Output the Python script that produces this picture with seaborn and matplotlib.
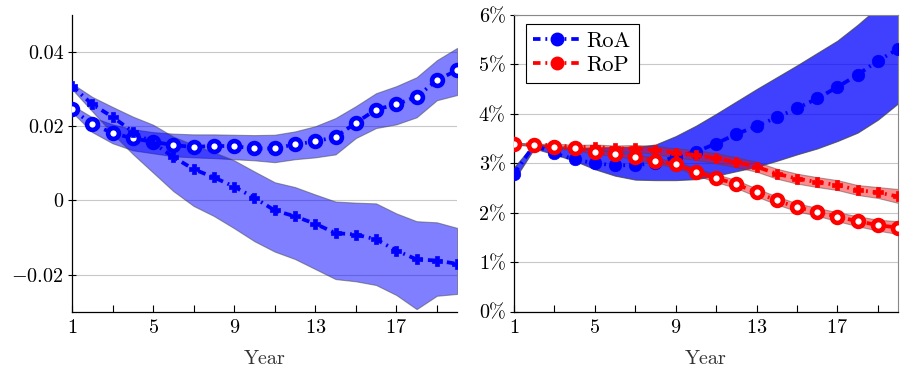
import pandas as pd
import seaborn as sns
import matplotlib.pyplot as plt
from matplotlib.lines import Line2D

years = list(range(1, 21))

# left panel (levels)
left_ring = [0.0246, 0.0205, 0.0182, 0.0167, 0.0158, 0.0149, 0.0144, 0.0147, 0.0146, 0.0140,
             0.0140, 0.0151, 0.0159, 0.0171, 0.0209, 0.0245, 0.0259, 0.0279, 0.0324, 0.0351]
left_ring_hi = [0.0257, 0.0224, 0.0205, 0.0192, 0.0184, 0.0180, 0.0178, 0.0178, 0.0177, 0.0176,
                0.0177, 0.0186, 0.0200, 0.0222, 0.0254, 0.0289, 0.0308, 0.0332, 0.0378, 0.0411]
left_ring_lo = [0.0238, 0.0184, 0.0154, 0.0135, 0.0127, 0.0119, 0.0116, 0.0114, 0.0111, 0.0108,
                0.0103, 0.0111, 0.0116, 0.0124, 0.0168, 0.0195, 0.0205, 0.0224, 0.0270, 0.0284]
left_plus = [0.0308, 0.0259, 0.0225, 0.0185, 0.0155, 0.0117, 0.0084, 0.0062, 0.0037, 0.0007,
             -0.0027, -0.0043, -0.0063, -0.0088, -0.0092, -0.0105, -0.0135, -0.0159, -0.0162, -0.0171]
left_plus_hi = [0.0315, 0.0279, 0.0252, 0.0226, 0.0204, 0.0172, 0.0150, 0.0130, 0.0108, 0.0078,
                0.0049, 0.0036, 0.0016, -0.0003, -0.0006, -0.0008, -0.0035, -0.0056, -0.0059, -0.0074]
left_plus_lo = [0.0300, 0.0240, 0.0180, 0.0125, 0.0075, 0.0025, -0.0015, -0.0042, -0.0075, -0.0110,
                -0.0138, -0.0158, -0.0185, -0.0212, -0.0218, -0.0228, -0.0255, -0.0293, -0.0257, -0.0252]

# right panel (percent)
roa = [2.79, 3.37, 3.20, 3.08, 3.00, 2.96, 2.96, 3.01, 3.13, 3.23,
       3.40, 3.59, 3.75, 3.93, 4.11, 4.31, 4.54, 4.79, 5.07, 5.31]
roa_hi = [2.92, 3.40, 3.33, 3.31, 3.32, 3.33, 3.33, 3.38, 3.55, 3.76,
          4.00, 4.25, 4.50, 4.74, 4.98, 5.23, 5.48, 5.80, 6.15, 6.45]
roa_lo = [2.66, 3.30, 3.18, 3.05, 2.88, 2.75, 2.67, 2.66, 2.66, 2.68,
          2.75, 2.84, 2.93, 3.05, 3.18, 3.30, 3.45, 3.62, 3.88, 4.21]
rop_ring = [3.40, 3.37, 3.33, 3.30, 3.23, 3.19, 3.13, 3.05, 2.98, 2.83,
            2.70, 2.58, 2.41, 2.25, 2.11, 2.02, 1.92, 1.83, 1.75, 1.70]
rop_ring_hi = [3.42, 3.39, 3.36, 3.33, 3.27, 3.23, 3.18, 3.11, 3.04, 2.90,
               2.78, 2.66, 2.49, 2.33, 2.19, 2.10, 2.01, 1.93, 1.86, 1.83]
rop_ring_lo = [3.38, 3.35, 3.30, 3.27, 3.19, 3.15, 3.08, 2.99, 2.92, 2.76,
               2.62, 2.50, 2.33, 2.17, 2.03, 1.94, 1.83, 1.73, 1.64, 1.57]
rop_plus = [3.40, 3.37, 3.37, 3.33, 3.33, 3.30, 3.30, 3.27, 3.21, 3.17,
            3.10, 3.02, 2.93, 2.79, 2.69, 2.62, 2.56, 2.46, 2.41, 2.33]
rop_plus_hi = [3.42, 3.39, 3.40, 3.37, 3.38, 3.36, 3.37, 3.35, 3.30, 3.27,
               3.20, 3.12, 3.03, 2.89, 2.79, 2.72, 2.66, 2.56, 2.52, 2.48]
rop_plus_lo = [3.38, 3.35, 3.34, 3.29, 3.28, 3.24, 3.23, 3.19, 3.12, 3.07,
               3.00, 2.92, 2.83, 2.69, 2.59, 2.52, 2.46, 2.36, 2.30, 2.20]

plt.rcParams['font.family'] = ['cmr10', 'DejaVu Serif']
plt.rcParams['mathtext.fontset'] = 'cm'
plt.rcParams['axes.formatter.use_mathtext'] = True
plt.rcParams['font.size'] = 14.5

BLUE = '#0000ff'
RED = '#ff0000'
DASHDOT = (0, (2.0, 1.3, 0.5, 1.3))


def band(ax, lo, hi, color, alpha):
    ax.fill_between(years, lo, hi, facecolor=color, alpha=alpha,
                    edgecolor='#444444', linewidth=0.8, zorder=1)


def line(ax, vals, color, kind):
    df = pd.DataFrame({'year': years, 'v': vals})
    if kind == 'ring':
        mk = dict(marker='o', markersize=7.8, markerfacecolor='white',
                  markeredgecolor=color, markeredgewidth=3.3)
    elif kind == 'plus':
        mk = dict(marker='P', markersize=7, markerfacecolor=color,
                  markeredgecolor=color, markeredgewidth=0.5)
    else:
        mk = dict(marker='o', markersize=9, markerfacecolor=color,
                  markeredgecolor=color, markeredgewidth=0.5)
    sns.lineplot(data=df, x='year', y='v', ax=ax, color=color, linewidth=2.7,
                 linestyle=DASHDOT, errorbar=None, zorder=3, **mk)


fig = plt.figure(figsize=(9.01, 3.72), dpi=100)
ax1 = fig.add_axes([0.0799, 0.162, 0.4275, 0.798])
ax2 = fig.add_axes([0.5705, 0.162, 0.4262, 0.798])

# left
band(ax1, left_ring_lo, left_ring_hi, BLUE, 0.5)
band(ax1, left_plus_lo, left_plus_hi, BLUE, 0.5)
line(ax1, left_ring, BLUE, 'ring')
line(ax1, left_plus, BLUE, 'plus')
ax1.set_ylim(-0.03, 0.05)
ax1.set_yticks([-0.02, 0, 0.02, 0.04])
ax1.set_yticklabels(['$-$0.02', '0', '0.02', '0.04'])
ax1.spines['top'].set_visible(False)
ax1.spines['right'].set_visible(False)

# right
band(ax2, roa_lo, roa_hi, BLUE, 0.75)
band(ax2, rop_plus_lo, rop_plus_hi, RED, 0.45)
band(ax2, rop_ring_lo, rop_ring_hi, RED, 0.45)
line(ax2, roa, BLUE, 'fill')
line(ax2, rop_plus, RED, 'plus')
line(ax2, rop_ring, RED, 'ring')
ax2.set_ylim(0, 6)
ax2.set_yticks(range(0, 7))
ax2.set_yticklabels(['%d%%' % t for t in range(0, 7)])
for s in ['top', 'right']:
    ax2.spines[s].set_color('#888888')

for ax in (ax1, ax2):
    ax.set_xlim(1, 20)
    ax.set_xticks([1, 5, 9, 13, 17])
    ax.set_xticks([3, 7, 11, 15, 19], minor=True)
    ax.tick_params(axis='x', which='both', direction='in', length=5, width=0.8, pad=5)
    ax.tick_params(axis='y', direction='inout', length=6, width=0.8, pad=3, colors='black')
    ax.grid(axis='y', color='#c8c8c8', linewidth=0.8)
    ax.set_axisbelow(True)
    ax.set_xlabel('Year', labelpad=10, color='#333333')
    ax.set_ylabel('')
    for s in ['left', 'bottom']:
        ax.spines[s].set_color('black')
        ax.spines[s].set_linewidth(0.9)

handles = [
    Line2D([], [], color=BLUE, linewidth=2.7, linestyle=DASHDOT, marker='o',
           markersize=9, markerfacecolor=BLUE, markeredgecolor=BLUE),
    Line2D([], [], color=RED, linewidth=2.7, linestyle=DASHDOT, marker='o',
           markersize=9, markerfacecolor=RED, markeredgecolor=RED),
]
leg = ax2.legend(handles, ['RoA', 'RoP'], loc='upper left', bbox_to_anchor=(0.03, 0.97),
                 borderaxespad=0, fancybox=False, framealpha=1, edgecolor='black',
                 handlelength=2.1, handletextpad=0.3, borderpad=0.35, labelspacing=0.2,
                 fontsize=16)
leg.get_frame().set_linewidth(0.8)

plt.savefig('out.png', dpi=100)
